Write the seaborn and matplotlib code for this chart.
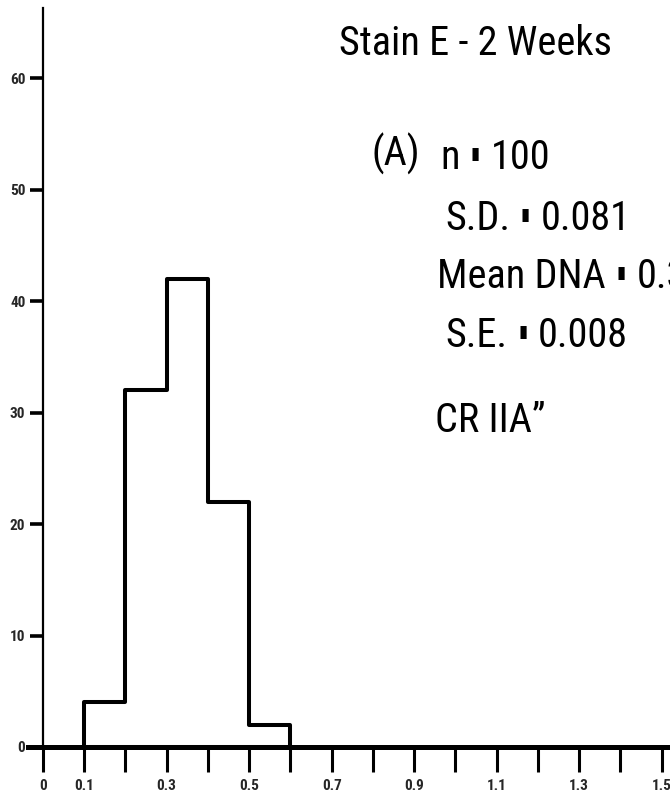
import matplotlib
matplotlib.use("Agg")
import matplotlib.pyplot as plt
from matplotlib import font_manager as fm
import seaborn as sns
import numpy as np

# ---- data ----
bin_left = [0.1, 0.2, 0.3, 0.4, 0.5]
counts = [4, 32, 42, 22, 2]
bin_width = 0.1
x_tick_values = [round(0.1 * i, 1) for i in range(16)]
x_tick_labels = ["0", "0.1", "", "0.3", "", "0.5", "", "0.7", "", "0.9", "", "1.1", "", "1.3", "", "1.5"]
y_tick_values = [0, 10, 20, 30, 40, 50, 60]
title = "Stain E - 2 Weeks"
panel = "(A)"
stat_names = ["n", "S.D.", "Mean DNA", "S.E."]
stat_values = ["100", "0.081", "0.3", "0.008"]
note = "CR IIA\u201d"
SQUARE = "\u25ae"

sns.set_style("white")
installed = {f.name for f in fm.fontManager.ttflist}
cands = ["Roboto Condensed", "DejaVu Sans Condensed", "Liberation Sans Narrow", "Roboto", "Liberation Sans"]
primary = [c for c in cands if c in installed]
FAM = primary[:1] + ["DejaVu Sans"]
plt.rcParams["font.family"] = FAM

W, H = 670, 802
fig = plt.figure(figsize=(W / 100, H / 100), dpi=100)
ax = fig.add_axes([28 / W, (H - 747) / H, (W - 28) / W, (747 - 8) / H])

centers = [b + bin_width / 2 for b in bin_left]
edges = bin_left + [bin_left[-1] + bin_width]
sns.histplot(x=centers, weights=counts, bins=edges, element="step", fill=True,
             color="black", facecolor="none", edgecolor="black", linewidth=2.9, ax=ax)

ax.set_xlim(-0.036, 1.52)
ax.set_ylim(0, 66.3)
ax.set_xlabel("")
ax.set_ylabel("")

for s in ["top", "right"]:
    ax.spines[s].set_visible(False)
ax.spines["left"].set_position(("data", 0))
ax.spines["left"].set_linewidth(1.6)
ax.spines["left"].set_color("black")
ax.spines["bottom"].set_linewidth(3.6)
ax.spines["bottom"].set_color("black")
ax.spines["bottom"].set_zorder(5)

ax.set_xticks(x_tick_values)
ax.set_xticklabels(x_tick_labels)
ax.set_yticks(y_tick_values)
ax.set_yticklabels([str(v) for v in y_tick_values])
ax.tick_params(axis="x", direction="out", length=18, width=2.2, color="black", pad=5,
               labelsize=11, bottom=True)
ax.tick_params(axis="y", direction="out", length=9.5, width=2.6, color="black", pad=3,
               labelsize=11, left=True)
for lab in ax.get_xticklabels() + ax.get_yticklabels():
    lab.set_fontweight("bold")
    lab.set_family(FAM)

renderer = fig.canvas.get_renderer()
FS = 29
WEIGHT = "normal"

def ftext(x, y, s, size=FS, family=FAM, weight=WEIGHT):
    t = fig.text(x / W, 1 - y / H, s, ha="left", va="baseline", fontsize=size,
                 family=family, fontweight=weight, color="black")
    return t

def width_px(t):
    return t.get_window_extent(renderer=renderer).width

def stat_line(x, y, name, value):
    t1 = ftext(x, y, name)
    xs = x + width_px(t1) + 11
    t2 = ftext(xs, y - 10, SQUARE, size=12, family=["DejaVu Sans"], weight="normal")
    xv = xs + width_px(t2) + 11
    ftext(xv, y, value)

ftext(339, 55, title)
ftext(372, 166, panel)
stat_line(440, 169, stat_names[0], stat_values[0])
stat_line(445, 230, stat_names[1], stat_values[1])
stat_line(437, 288, stat_names[2], stat_values[2])
stat_line(445, 347, stat_names[3], stat_values[3])
ftext(435, 432, note)

fig.savefig("out.png", dpi=100, facecolor="white")
